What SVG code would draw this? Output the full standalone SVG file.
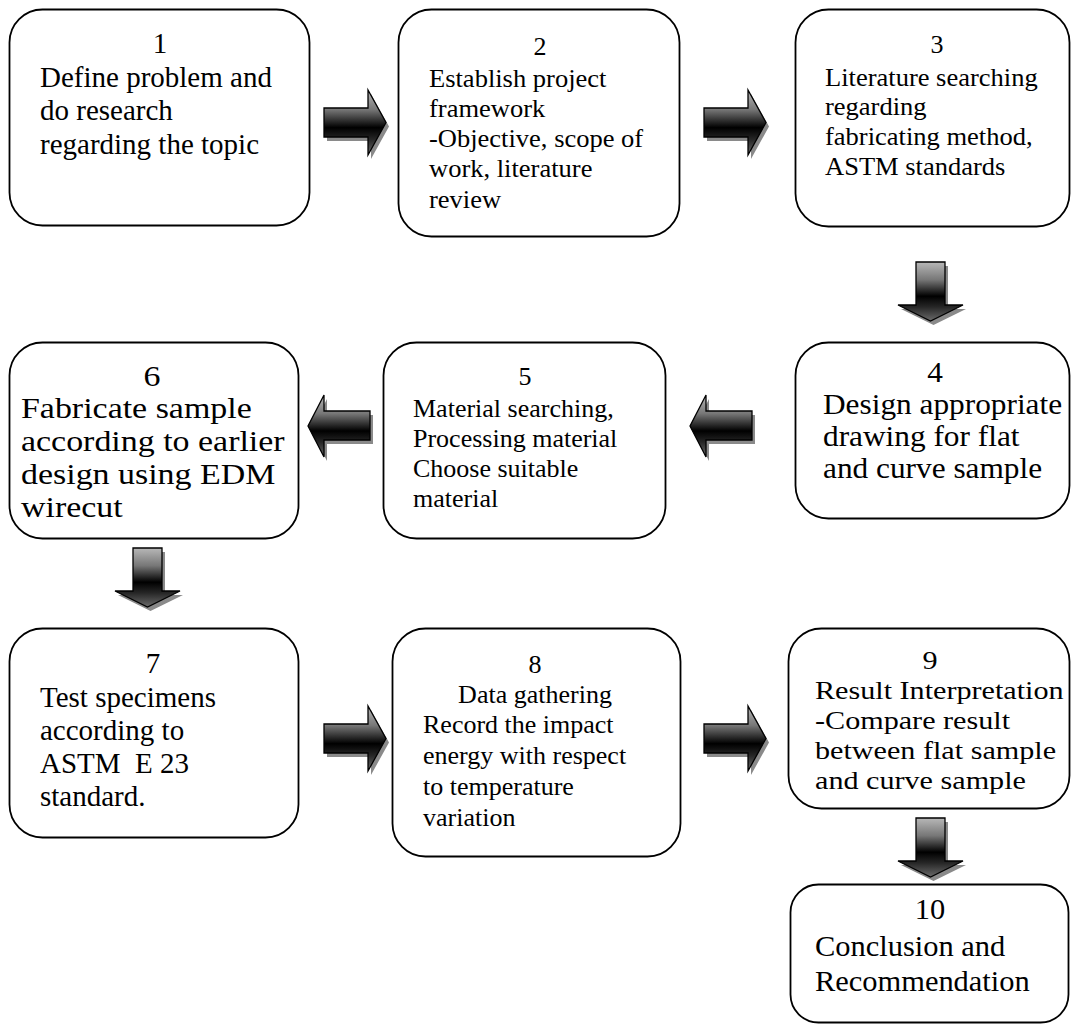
<svg xmlns="http://www.w3.org/2000/svg" xmlns:xlink="http://www.w3.org/1999/xlink" width="1072" height="1027" viewBox="0 0 1072 1027">
<style>
.box{fill:#fff;stroke:#000;stroke-width:1.8}
.t{font-family:"Liberation Serif","Times New Roman",serif;fill:#000}
.c{text-anchor:middle}
.s29{font-size:29px}
.s26{font-size:26px}
.arr{fill:url(#ag);stroke:#000;stroke-width:1.3;stroke-linejoin:miter}
.sh{fill:#8a8a8a;stroke:none}
</style>
<defs>
<linearGradient id="ag" x1="0" y1="0" x2="0" y2="1">
<stop offset="0" stop-color="#b8b8b8"/>
<stop offset="0.3" stop-color="#777"/>
<stop offset="0.58" stop-color="#000"/>
<stop offset="0.76" stop-color="#262626"/>
<stop offset="1" stop-color="#6a6a6a"/>
</linearGradient>
<path id="ra" d="M0,0 H44 V-18 L62,14.5 L44,47 V29 H0 Z"/>
<path id="la" d="M0,0 H-46 V-16 L-62,15 L-46,46 V29 H0 Z"/>
<path id="da" d="M0,0 H29 V43 H47 L14.5,59 L-18,43 H0 Z"/>
</defs>

<g id="connectors">
<g id="a1-2"><use xlink:href="#ra" class="sh" transform="translate(327,112)"/><use xlink:href="#ra" class="arr" transform="translate(324,108)"/></g>
<g id="a2-3"><use xlink:href="#ra" class="sh" transform="translate(707,112)"/><use xlink:href="#ra" class="arr" transform="translate(704,108)"/></g>
<g id="a3-4"><use xlink:href="#da" class="sh" transform="translate(919,266)"/><use xlink:href="#da" class="arr" transform="translate(916,262)"/></g>
<g id="a4-5"><use xlink:href="#la" class="sh" transform="translate(755,415)"/><use xlink:href="#la" class="arr" transform="translate(752,411)"/></g>
<g id="a5-6"><use xlink:href="#la" class="sh" transform="translate(373,415)"/><use xlink:href="#la" class="arr" transform="translate(370,411)"/></g>
<g id="a6-7"><use xlink:href="#da" class="sh" transform="translate(136,552)"/><use xlink:href="#da" class="arr" transform="translate(133,548)"/></g>
<g id="a7-8"><use xlink:href="#ra" class="sh" transform="translate(327,728)"/><use xlink:href="#ra" class="arr" transform="translate(324,724)"/></g>
<g id="a8-9"><use xlink:href="#ra" class="sh" transform="translate(707,728)"/><use xlink:href="#ra" class="arr" transform="translate(704,724)"/></g>
<g id="a9-10"><use xlink:href="#da" class="sh" transform="translate(919,822)"/><use xlink:href="#da" class="arr" transform="translate(916,818)"/></g>
</g>

<g id="n1">
<rect class="box" x="9.5" y="9.5" width="300" height="216" rx="33"/>
<text class="t s29 c" x="160" y="53">1</text>
<text class="t s29"><tspan x="40" y="87">Define problem and</tspan><tspan x="40" y="120">do research</tspan><tspan x="40" y="154">regarding the topic</tspan></text>
</g>

<g id="n2">
<rect class="box" x="398.5" y="9.5" width="281" height="227" rx="33"/>
<text class="t s26 c" x="540" y="55">2</text>
<text class="t s26" transform="translate(429,0) scale(1.02,1)"><tspan x="0" y="87">Establish project</tspan><tspan x="0" y="117">framework</tspan><tspan x="0" y="147">-Objective, scope of</tspan><tspan x="0" y="177">work, literature</tspan><tspan x="0" y="208">review</tspan></text>
</g>

<g id="n3">
<rect class="box" x="795.5" y="9.5" width="274" height="217" rx="33"/>
<text class="t s26 c" x="937" y="53">3</text>
<text class="t s26" transform="translate(825,0) scale(1.02,1)"><tspan x="0" y="86">Literature searching</tspan><tspan x="0" y="115">regarding</tspan><tspan x="0" y="145">fabricating method,</tspan><tspan x="0" y="175">ASTM standards</tspan></text>
</g>

<g id="n4">
<rect class="box" x="795.5" y="342.5" width="274" height="176" rx="33"/>
<text class="t s29 c" transform="translate(935,0) scale(1.08,1)" x="0" y="382">4</text>
<text class="t s29" transform="translate(823,0) scale(1.08,1)"><tspan x="0" y="414">Design appropriate</tspan><tspan x="0" y="446">drawing for flat</tspan><tspan x="0" y="478">and curve sample</tspan></text>
</g>

<g id="n5">
<rect class="box" x="383.5" y="342.5" width="282" height="196" rx="33"/>
<text class="t s26 c" x="525" y="385">5</text>
<text class="t s26"><tspan x="413" y="417">Material searching,</tspan><tspan x="413" y="447">Processing material</tspan><tspan x="413" y="477">Choose suitable</tspan><tspan x="413" y="507">material</tspan></text>
</g>

<g id="n6">
<rect class="box" x="9.5" y="342.5" width="289" height="196" rx="33"/>
<text class="t s29 c" transform="translate(152,0) scale(1.17,1)" x="0" y="386">6</text>
<text class="t s29" transform="translate(21,0) scale(1.17,1)"><tspan x="0" y="418">Fabricate sample</tspan><tspan x="0" y="451">according to earlier</tspan><tspan x="0" y="484">design using EDM</tspan><tspan x="0" y="517">wirecut</tspan></text>
</g>

<g id="n7">
<rect class="box" x="9.5" y="628.5" width="289" height="209" rx="33"/>
<text class="t s29 c" x="153" y="673">7</text>
<text class="t s29" style="white-space:pre"><tspan x="40" y="707">Test specimens</tspan><tspan x="40" y="740">according to</tspan><tspan x="40" y="773">ASTM  E 23</tspan><tspan x="40" y="806">standard.</tspan></text>
</g>

<g id="n8">
<rect class="box" x="392.5" y="628.5" width="288" height="228" rx="33"/>
<text class="t s26 c" x="535" y="673">8</text>
<text class="t s26 c" x="535" y="703">Data gathering</text>
<text class="t s26"><tspan x="423" y="733">Record the impact</tspan><tspan x="423" y="764">energy with respect</tspan><tspan x="423" y="795">to temperature</tspan><tspan x="423" y="826">variation</tspan></text>
</g>

<g id="n9">
<rect class="box" x="788.5" y="628.5" width="281" height="180" rx="33"/>
<text class="t s26 c" transform="translate(930,0) scale(1.16,1)" x="0" y="669">9</text>
<text class="t s26" transform="translate(815,0) scale(1.16,1)"><tspan x="0" y="699">Result Interpretation</tspan><tspan x="0" y="729">-Compare result</tspan><tspan x="0" y="759">between flat sample</tspan><tspan x="0" y="789">and curve sample</tspan></text>
</g>

<g id="n10">
<rect class="box" x="790.5" y="884.5" width="278" height="138" rx="28"/>
<text class="t s29 c" transform="translate(930,0) scale(1.05,1)" x="0" y="919">10</text>
<text class="t s29" transform="translate(815,0) scale(1.05,1)"><tspan x="0" y="956">Conclusion and</tspan><tspan x="0" y="991">Recommendation</tspan></text>
</g>
</svg>
